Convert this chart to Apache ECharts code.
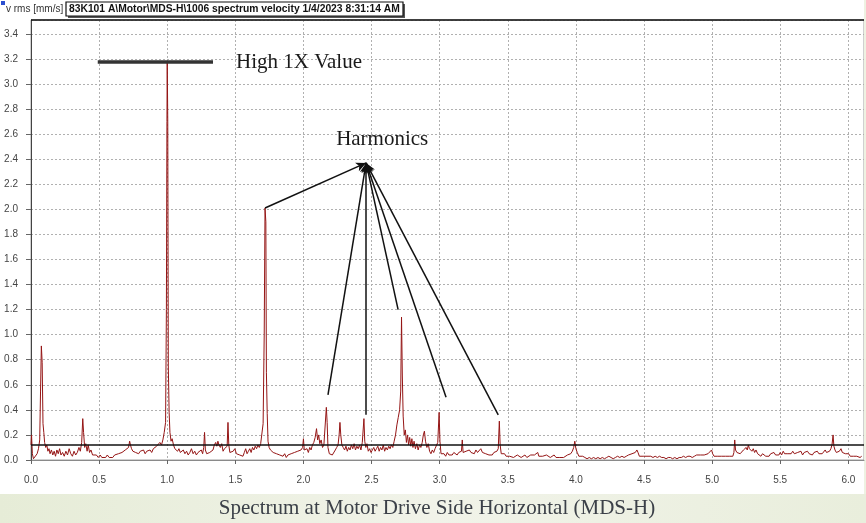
<!DOCTYPE html>
<html>
<head>
    <meta charset="UTF-8">
    <title>Spectrum MDS-H</title>
    <script src="https://cdn.jsdelivr.net/npm/echarts@6/dist/echarts.min.js"></script>
    <style>
        html, body { margin: 0; padding: 0; background: #fff; }
        #chart { width: 866px; height: 523px; }
    </style>
</head>
<body>
<div id="chart"></div>
<script>
    // spectrum, [order (x running speed), velocity rms mm/s]
    var seg0to1 = [
        [0.000, 0.12], [0.004, 0.20], [0.010, 0.05], [0.018, 0.01], [0.030, 0.02], [0.045, 0.05],
        [0.055, 0.09], [0.064, 0.16], [0.070, 0.55], [0.076, 0.91], [0.082, 0.78], [0.088, 0.29],
        [0.094, 0.22], [0.100, 0.14], [0.108, 0.10], [0.116, 0.12], [0.124, 0.07], [0.132, 0.09],
        [0.140, 0.05], [0.150, 0.08], [0.160, 0.04], [0.170, 0.07], [0.180, 0.03], [0.190, 0.08],
        [0.200, 0.05], [0.210, 0.09], [0.220, 0.04], [0.232, 0.06], [0.244, 0.03], [0.256, 0.07],
        [0.268, 0.04], [0.280, 0.09], [0.292, 0.05], [0.304, 0.03], [0.316, 0.07], [0.328, 0.04],
        [0.340, 0.06], [0.352, 0.10], [0.362, 0.07], [0.372, 0.14], [0.380, 0.33], [0.386, 0.22],
        [0.394, 0.10], [0.402, 0.13], [0.412, 0.07], [0.420, 0.12], [0.430, 0.06], [0.440, 0.08],
        [0.452, 0.04], [0.466, 0.03], [0.480, 0.04], [0.494, 0.02], [0.508, 0.04], [0.520, 0.02],
        [0.534, 0.03], [0.548, 0.02], [0.560, 0.04], [0.574, 0.02], [0.588, 0.03], [0.600, 0.02],
        [0.614, 0.04], [0.628, 0.03], [0.642, 0.05], [0.656, 0.04], [0.668, 0.06], [0.680, 0.05],
        [0.692, 0.08], [0.704, 0.07], [0.716, 0.10], [0.724, 0.15], [0.730, 0.12], [0.738, 0.09],
        [0.748, 0.07], [0.758, 0.08], [0.768, 0.06], [0.778, 0.07], [0.790, 0.05], [0.802, 0.07],
        [0.814, 0.06], [0.826, 0.08], [0.838, 0.05], [0.850, 0.07], [0.862, 0.06], [0.874, 0.08],
        [0.886, 0.06], [0.898, 0.09], [0.910, 0.08], [0.922, 0.11], [0.934, 0.10], [0.946, 0.14],
        [0.958, 0.12], [0.968, 0.16], [0.978, 0.22], [0.988, 0.30], [0.994, 1.20], [0.998, 2.70]
    ];
    var seg1to2 = [
        [1.000, 3.18], [1.004, 2.70], [1.008, 0.75], [1.014, 0.38], [1.020, 0.22], [1.028, 0.15],
        [1.036, 0.17], [1.046, 0.12], [1.056, 0.09], [1.066, 0.10], [1.076, 0.07], [1.086, 0.09],
        [1.096, 0.06], [1.106, 0.05], [1.118, 0.08], [1.130, 0.05], [1.142, 0.07], [1.154, 0.04],
        [1.166, 0.06], [1.178, 0.09], [1.190, 0.05], [1.202, 0.07], [1.214, 0.04], [1.226, 0.06],
        [1.238, 0.05], [1.250, 0.08], [1.260, 0.05], [1.268, 0.10], [1.274, 0.22], [1.280, 0.08],
        [1.290, 0.05], [1.300, 0.04], [1.312, 0.06], [1.324, 0.05], [1.336, 0.08], [1.346, 0.12],
        [1.356, 0.14], [1.364, 0.11], [1.372, 0.15], [1.380, 0.12], [1.390, 0.10], [1.400, 0.13],
        [1.410, 0.07], [1.420, 0.09], [1.430, 0.08], [1.440, 0.11], [1.446, 0.30], [1.452, 0.12],
        [1.460, 0.06], [1.472, 0.05], [1.484, 0.07], [1.496, 0.09], [1.508, 0.05], [1.520, 0.06],
        [1.532, 0.04], [1.544, 0.05], [1.556, 0.03], [1.566, 0.06], [1.576, 0.09], [1.586, 0.05],
        [1.596, 0.07], [1.606, 0.09], [1.616, 0.06], [1.626, 0.10], [1.636, 0.08], [1.646, 0.11],
        [1.656, 0.09], [1.666, 0.12], [1.676, 0.10], [1.686, 0.13], [1.696, 0.14], [1.704, 0.29],
        [1.712, 1.00], [1.718, 2.01], [1.724, 1.90], [1.728, 0.70], [1.734, 0.37], [1.740, 0.15],
        [1.748, 0.10], [1.758, 0.08], [1.768, 0.09], [1.778, 0.06], [1.790, 0.07], [1.802, 0.05],
        [1.814, 0.06], [1.826, 0.04], [1.838, 0.05], [1.850, 0.03], [1.862, 0.05], [1.874, 0.02],
        [1.886, 0.04], [1.898, 0.03], [1.910, 0.05], [1.922, 0.04], [1.934, 0.06], [1.946, 0.05],
        [1.958, 0.07], [1.970, 0.06], [1.982, 0.08], [1.994, 0.10]
    ];
    var seg2to3 = [
        [2.000, 0.17], [2.006, 0.08], [2.016, 0.07], [2.026, 0.09], [2.036, 0.06], [2.046, 0.10],
        [2.056, 0.08], [2.066, 0.12], [2.076, 0.14], [2.086, 0.18], [2.096, 0.25], [2.104, 0.16],
        [2.112, 0.20], [2.120, 0.13], [2.130, 0.16], [2.140, 0.10], [2.150, 0.12], [2.160, 0.13],
        [2.168, 0.42], [2.174, 0.30], [2.180, 0.10], [2.190, 0.05], [2.200, 0.04], [2.212, 0.04],
        [2.224, 0.05], [2.234, 0.08], [2.244, 0.10], [2.254, 0.12], [2.262, 0.20], [2.268, 0.30],
        [2.274, 0.20], [2.282, 0.12], [2.292, 0.10], [2.302, 0.08], [2.312, 0.11], [2.322, 0.07],
        [2.332, 0.10], [2.342, 0.08], [2.352, 0.12], [2.362, 0.09], [2.372, 0.13], [2.382, 0.08],
        [2.392, 0.11], [2.402, 0.09], [2.412, 0.12], [2.422, 0.08], [2.432, 0.14], [2.444, 0.33],
        [2.450, 0.15], [2.458, 0.10], [2.466, 0.13], [2.476, 0.07], [2.486, 0.09], [2.496, 0.06],
        [2.506, 0.08], [2.516, 0.10], [2.526, 0.07], [2.536, 0.09], [2.546, 0.11], [2.556, 0.07],
        [2.566, 0.10], [2.576, 0.08], [2.586, 0.12], [2.596, 0.07], [2.606, 0.10], [2.616, 0.08],
        [2.626, 0.11], [2.636, 0.09], [2.646, 0.12], [2.656, 0.10], [2.666, 0.15], [2.676, 0.20],
        [2.686, 0.28], [2.696, 0.34], [2.706, 0.40], [2.714, 0.55], [2.720, 1.14], [2.726, 0.67],
        [2.732, 0.35], [2.740, 0.20], [2.748, 0.24], [2.756, 0.14], [2.764, 0.20], [2.772, 0.12],
        [2.780, 0.18], [2.788, 0.11], [2.796, 0.17], [2.804, 0.10], [2.812, 0.15], [2.822, 0.09],
        [2.832, 0.13], [2.842, 0.08], [2.852, 0.12], [2.862, 0.10], [2.872, 0.14], [2.880, 0.20],
        [2.888, 0.23], [2.896, 0.15], [2.906, 0.10], [2.916, 0.13], [2.926, 0.07], [2.936, 0.05],
        [2.946, 0.08], [2.956, 0.06], [2.966, 0.09], [2.976, 0.08], [2.986, 0.14], [2.996, 0.38]
    ];
    var seg3to4 = [
        [3.002, 0.15], [3.010, 0.05], [3.020, 0.04], [3.032, 0.05], [3.044, 0.03], [3.056, 0.06],
        [3.068, 0.04], [3.080, 0.05], [3.092, 0.04], [3.104, 0.06], [3.116, 0.05], [3.128, 0.04],
        [3.140, 0.06], [3.152, 0.05], [3.160, 0.07], [3.166, 0.16], [3.172, 0.06], [3.182, 0.05],
        [3.194, 0.07], [3.206, 0.06], [3.218, 0.08], [3.230, 0.06], [3.242, 0.07], [3.254, 0.05],
        [3.266, 0.08], [3.278, 0.06], [3.290, 0.07], [3.302, 0.09], [3.314, 0.06], [3.326, 0.07],
        [3.338, 0.05], [3.350, 0.06], [3.362, 0.04], [3.374, 0.05], [3.386, 0.04], [3.398, 0.06],
        [3.410, 0.05], [3.420, 0.07], [3.430, 0.09], [3.438, 0.31], [3.444, 0.12], [3.452, 0.05],
        [3.464, 0.04], [3.476, 0.05], [3.488, 0.03], [3.500, 0.04], [3.514, 0.03], [3.528, 0.04],
        [3.542, 0.02], [3.556, 0.03], [3.570, 0.04], [3.584, 0.03], [3.598, 0.02], [3.612, 0.03],
        [3.626, 0.04], [3.640, 0.02], [3.654, 0.03], [3.668, 0.04], [3.682, 0.03], [3.696, 0.04],
        [3.710, 0.03], [3.720, 0.06], [3.728, 0.03], [3.742, 0.04], [3.756, 0.03], [3.770, 0.02],
        [3.784, 0.04], [3.798, 0.03], [3.812, 0.02], [3.826, 0.03], [3.840, 0.04], [3.854, 0.02],
        [3.868, 0.03], [3.882, 0.02], [3.896, 0.03], [3.910, 0.02], [3.924, 0.03], [3.938, 0.04],
        [3.950, 0.03], [3.962, 0.05], [3.974, 0.07], [3.984, 0.10], [3.992, 0.15]
    ];
    var seg4to5 = [
        [4.000, 0.09], [4.010, 0.06], [4.022, 0.03], [4.036, 0.02], [4.050, 0.03], [4.066, 0.02],
        [4.082, 0.01], [4.098, 0.02], [4.114, 0.01], [4.130, 0.02], [4.146, 0.01], [4.162, 0.02],
        [4.178, 0.01], [4.194, 0.02], [4.210, 0.01], [4.226, 0.02], [4.242, 0.03], [4.258, 0.02],
        [4.274, 0.01], [4.290, 0.02], [4.306, 0.03], [4.322, 0.02], [4.338, 0.03], [4.354, 0.02],
        [4.370, 0.03], [4.386, 0.04], [4.400, 0.03], [4.412, 0.05], [4.424, 0.04], [4.436, 0.06],
        [4.448, 0.08], [4.456, 0.06], [4.466, 0.03], [4.480, 0.02], [4.494, 0.03], [4.508, 0.02],
        [4.522, 0.03], [4.536, 0.02], [4.550, 0.03], [4.566, 0.02], [4.582, 0.03], [4.598, 0.02],
        [4.614, 0.03], [4.630, 0.02], [4.646, 0.02], [4.662, 0.01], [4.678, 0.02], [4.694, 0.02],
        [4.710, 0.01], [4.726, 0.02], [4.742, 0.01], [4.758, 0.02], [4.774, 0.02], [4.790, 0.03],
        [4.806, 0.02], [4.822, 0.03], [4.838, 0.03], [4.854, 0.02], [4.870, 0.03], [4.886, 0.04],
        [4.900, 0.03], [4.914, 0.04], [4.928, 0.03], [4.942, 0.04], [4.956, 0.03], [4.970, 0.05],
        [4.984, 0.06], [4.996, 0.08]
    ];
    var seg5to6 = [
        [5.004, 0.05], [5.014, 0.03], [5.028, 0.02], [5.042, 0.03], [5.056, 0.02], [5.070, 0.03],
        [5.084, 0.02], [5.098, 0.03], [5.112, 0.02], [5.126, 0.03], [5.140, 0.04], [5.152, 0.03],
        [5.160, 0.06], [5.166, 0.16], [5.172, 0.08], [5.182, 0.06], [5.194, 0.07], [5.206, 0.05],
        [5.218, 0.06], [5.230, 0.08], [5.240, 0.07], [5.250, 0.10], [5.258, 0.08], [5.266, 0.12],
        [5.274, 0.09], [5.282, 0.10], [5.292, 0.07], [5.302, 0.09], [5.312, 0.06], [5.322, 0.08],
        [5.334, 0.05], [5.346, 0.04], [5.358, 0.03], [5.370, 0.05], [5.382, 0.04], [5.394, 0.03],
        [5.406, 0.04], [5.418, 0.03], [5.430, 0.05], [5.442, 0.04], [5.454, 0.06], [5.466, 0.04],
        [5.478, 0.05], [5.490, 0.04], [5.500, 0.06], [5.510, 0.04], [5.522, 0.07], [5.532, 0.05],
        [5.544, 0.04], [5.556, 0.05], [5.568, 0.04], [5.580, 0.05], [5.592, 0.07], [5.604, 0.05],
        [5.616, 0.04], [5.628, 0.06], [5.640, 0.05], [5.652, 0.07], [5.664, 0.04], [5.676, 0.06],
        [5.688, 0.05], [5.700, 0.07], [5.712, 0.05], [5.724, 0.06], [5.736, 0.04], [5.748, 0.06],
        [5.760, 0.05], [5.772, 0.07], [5.784, 0.05], [5.796, 0.06], [5.808, 0.05], [5.820, 0.06],
        [5.830, 0.08], [5.840, 0.06], [5.852, 0.05], [5.862, 0.07], [5.872, 0.09], [5.880, 0.12],
        [5.888, 0.20], [5.894, 0.11], [5.902, 0.08], [5.912, 0.06], [5.922, 0.05], [5.934, 0.07],
        [5.946, 0.09], [5.956, 0.06], [5.966, 0.07], [5.978, 0.05], [5.990, 0.04], [6.002, 0.05],
        [6.014, 0.03], [6.026, 0.04], [6.038, 0.03], [6.050, 0.04], [6.062, 0.03], [6.074, 0.04],
        [6.086, 0.02], [6.098, 0.03]
    ];

    var alarmLevel = 0.12;
    var oneXLevel = [[0.49, 3.18], [1.336, 3.18]];
    var harmonicsTarget = [2.46, 2.37];
    var harmonicsFrom = [[1.718, 2.01], [2.18, 0.52], [2.46, 0.36], [2.695, 1.20], [3.047, 0.50], [3.43, 0.36]];
    var yUnit = 'v rms [mm/s]';
    var headerText = '83K101 A\\Motor\\MDS-H\\1006 spectrum velocity 1/4/2023 8:31:14 AM';
    var captionText = 'Spectrum at Motor Drive Side Horizontal (MDS-H)';

    var spectrum = seg0to1.concat(seg1to2, seg2to3, seg3to4, seg4to5, seg5to6);

    var chart = echarts.init(document.getElementById('chart'), null, {renderer: 'canvas'});

    var arrowLines = harmonicsFrom.map(function (p) {
        return [{coord: p}, {coord: harmonicsTarget}];
    });

    var sansFont = 'Liberation Sans, Arial, sans-serif';
    var serifFont = 'Liberation Serif, Times New Roman, serif';

    chart.setOption({
        animation: false,
        backgroundColor: '#ffffff',
        grid: {left: 31, right: 2, top: 20, bottom: 63, show: true, borderColor: '#a0a0a0', borderWidth: 1},
        xAxis: {
            type: 'value', min: 0, max: 6.115, interval: 0.5, offset: 9,
            axisLine: {lineStyle: {color: '#8a8a8a'}},
            axisTick: {length: 4, lineStyle: {color: '#666'}},
            axisLabel: {
                color: '#444', fontSize: 10, fontFamily: sansFont, margin: 6, showMaxLabel: false,
                formatter: function (v) { return v.toFixed(1); }
            },
            splitLine: {show: true, lineStyle: {color: '#b0b0b0', type: [2, 2], width: 1}}
        },
        yAxis: {
            type: 'value', min: 0, max: 3.51, interval: 0.2,
            axisLine: {show: true, lineStyle: {color: '#444'}},
            axisTick: {show: true, length: 5, lineStyle: {color: '#666'}},
            axisLabel: {
                color: '#444', fontSize: 10, fontFamily: sansFont, margin: 13, showMaxLabel: false,
                formatter: function (v) { return v.toFixed(1); }
            },
            splitLine: {show: true, lineStyle: {color: '#b0b0b0', type: [2, 2], width: 1}}
        },
        series: [{
            type: 'line',
            data: spectrum,
            showSymbol: false,
            clip: false,
            lineStyle: {color: '#951515', width: 1},
            markLine: {
                silent: true,
                symbol: ['none', 'none'],
                label: {show: false},
                data: [
                    {yAxis: alarmLevel, lineStyle: {color: '#111', width: 1.5, type: 'solid'}},
                    {yAxis: 3.51, lineStyle: {color: '#111', width: 1.5, type: 'solid'}},
                    [{coord: oneXLevel[0], lineStyle: {color: '#333', width: 3.5, type: 'solid'}}, {coord: oneXLevel[1]}]
                ]
            }
        }, {
            type: 'line',
            data: [],
            markLine: {
                silent: true,
                symbol: ['none', 'arrow'],
                symbolSize: [7, 10],
                label: {show: false},
                lineStyle: {color: '#111', width: 1.5, type: 'solid'},
                data: arrowLines
            }
        }]
    });

    var p1x = chart.convertToPixel({gridIndex: 0}, [1.505, 3.17]);
    var pHarm = chart.convertToPixel({gridIndex: 0}, [2.24, 2.56]);

    chart.setOption({
        graphic: [
            {type: 'rect', shape: {x: 1, y: 1, width: 4, height: 4}, style: {fill: '#2c4fd0'}},
            {type: 'text', x: 6, y: 9, style: {text: yUnit, font: '10px ' + sansFont, fill: '#333', textVerticalAlign: 'middle'}},
            {type: 'rect', shape: {x: 68, y: 4, width: 337, height: 14}, style: {fill: '#555'}},
            {type: 'rect', shape: {x: 66, y: 2, width: 337, height: 14}, style: {fill: '#fff', stroke: '#111', lineWidth: 1.2}},
            {type: 'text', x: 69, y: 9.5, style: {text: headerText, font: 'bold 10.3px ' + sansFont, fill: '#111', textVerticalAlign: 'middle'}},
            {type: 'text', x: p1x[0], y: p1x[1], style: {text: 'High 1X Value', font: '21px ' + serifFont, fill: '#1a1a1a', textVerticalAlign: 'middle'}},
            {type: 'text', x: pHarm[0], y: pHarm[1], style: {text: 'Harmonics', font: '21px ' + serifFont, fill: '#1a1a1a', textVerticalAlign: 'middle'}},
            {type: 'rect', shape: {x: 864, y: 0, width: 2, height: 494}, style: {fill: '#eef2e2'}},
            {
                type: 'rect', shape: {x: 0, y: 494, width: 866, height: 29},
                style: {fill: new echarts.graphic.LinearGradient(0, 0, 1, 0, [
                    {offset: 0, color: '#e6ecd7'}, {offset: 0.5, color: '#f1f3e9'}, {offset: 1, color: '#e9eedc'}
                ])}
            },
            {type: 'text', x: 437, y: 508, style: {text: captionText, font: '21px ' + serifFont, fill: '#3b4048', textAlign: 'center', textVerticalAlign: 'middle'}}
        ]
    });
</script>
</body>
</html>
